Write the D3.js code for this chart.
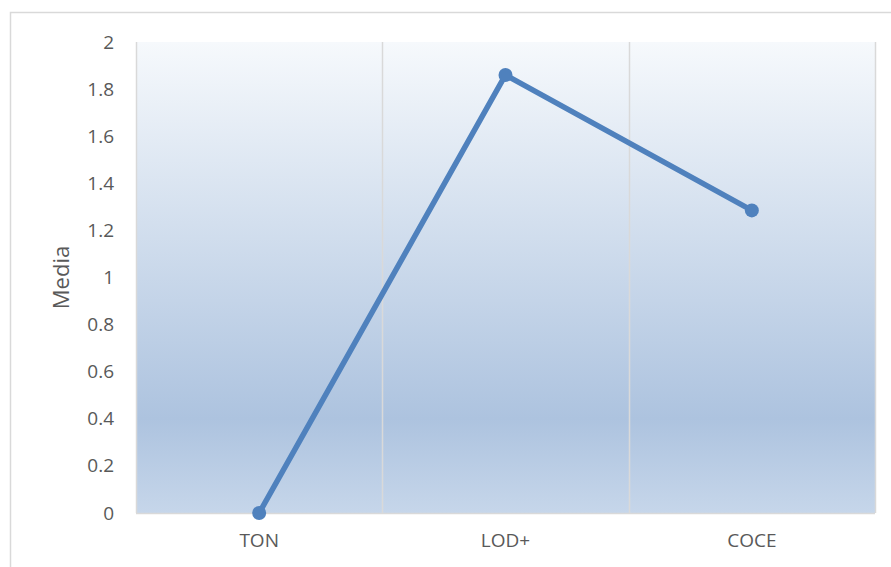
<!DOCTYPE html>
<html><head><meta charset="utf-8">
<script src="https://cdn.jsdelivr.net/npm/d3@7"></script>
<style>body{margin:0;background:#fff}svg{display:block}text{font-family:"Open Sans","Liberation Sans",sans-serif;fill:#595959}</style>
</head><body>
<script>
const categories = ["TON", "LOD+", "COCE"];
const values = [0, 1.86, 1.285];
const yTicks = [0, 0.2, 0.4, 0.6, 0.8, 1, 1.2, 1.4, 1.6, 1.8, 2];
const yTickLabels = ["0", "0.2", "0.4", "0.6", "0.8", "1", "1.2", "1.4", "1.6", "1.8", "2"];
const yLabel = "Media";

const W = 891, H = 567;
const m = {left: 136, top: 42, right: 891 - 875, bottom: 567 - 513};
const svg = d3.select("body").append("svg").attr("width", W).attr("height", H);

svg.append("rect").attr("x", 10.5).attr("y", 12.5).attr("width", 900).attr("height", 600)
  .attr("fill", "#fff").attr("stroke", "#d9d9d9").attr("stroke-width", 1.5);

const defs = svg.append("defs");
const g = defs.append("linearGradient").attr("id", "bg").attr("x1", 0).attr("y1", 0).attr("x2", 0).attr("y2", 1);
g.append("stop").attr("offset", "0%").attr("stop-color", "#f6f9fc");
g.append("stop").attr("offset", "80%").attr("stop-color", "#adc3df");
g.append("stop").attr("offset", "100%").attr("stop-color", "#c6d6ea");

const x = d3.scaleBand().domain(categories).range([m.left, W - m.right]).paddingInner(0).paddingOuter(0);
const y = d3.scaleLinear().domain([0, 2]).range([H - m.bottom, m.top]);

svg.append("rect").attr("x", m.left).attr("y", m.top).attr("width", W - m.right - m.left)
  .attr("height", H - m.bottom - m.top).attr("fill", "url(#bg)");

const bounds = categories.map(c => x(c)).concat([x(categories[categories.length - 1]) + x.bandwidth()]);
svg.append("g").selectAll("line").data(bounds).join("line")
  .attr("x1", d => Math.round(d) + 0.5).attr("x2", d => Math.round(d) + 0.5)
  .attr("y1", m.top).attr("y2", H - m.bottom)
  .attr("stroke", "#d9d9d9").attr("stroke-width", 1.5);

svg.append("line").attr("x1", m.left).attr("x2", W - m.right)
  .attr("y1", H - m.bottom + 0.5).attr("y2", H - m.bottom + 0.5)
  .attr("stroke", "#d9d9d9").attr("stroke-width", 1.5);

const yAxis = d3.axisLeft(y).tickValues(yTicks).tickFormat((d, i) => yTickLabels[i]).tickSize(0).tickPadding(22);
const ya = svg.append("g").attr("transform", `translate(${m.left},0)`).call(yAxis);
ya.select(".domain").remove();
ya.selectAll("text").attr("font-size", 19).style("fill", "#595959")
  .style("font-family", '"Open Sans","Liberation Sans",sans-serif');

const xAxis = d3.axisBottom(x).tickSize(0).tickPadding(21);
const xa = svg.append("g").attr("transform", `translate(0,${H - m.bottom})`).call(xAxis);
xa.select(".domain").remove();
xa.selectAll("text").attr("font-size", 19).style("fill", "#595959")
  .style("font-family", '"Open Sans","Liberation Sans",sans-serif');

svg.append("text").attr("transform", `translate(69,${(m.top + H - m.bottom) / 2}) rotate(-90)`)
  .attr("text-anchor", "middle").attr("font-size", 22).text(yLabel);

const pts = categories.map((c, i) => [x(c) + x.bandwidth() / 2, y(values[i])]);
svg.append("path").attr("d", d3.line()(pts)).attr("fill", "none")
  .attr("stroke", "#4f81bd").attr("stroke-width", 5.5).attr("stroke-linejoin", "round");
svg.append("g").selectAll("circle").data(pts).join("circle")
  .attr("cx", d => d[0]).attr("cy", d => d[1]).attr("r", 7).attr("fill", "#4f81bd");
</script>
</body></html>
